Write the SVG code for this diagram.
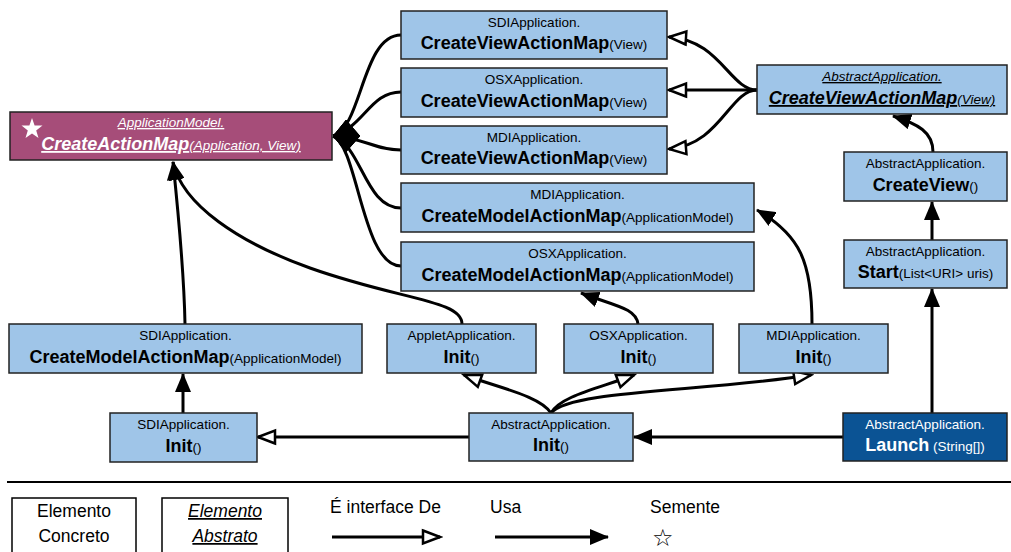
<svg xmlns="http://www.w3.org/2000/svg" width="1011" height="552" viewBox="0 0 1011 552">
<style>
.box{fill:#9fc5e8;stroke:#222;stroke-width:1.5}
.abs{fill:#9fc5e8;stroke:#222;stroke-width:1.5}
.model{fill:#a64d79;stroke:#222;stroke-width:1.5}
.seed{fill:#0b5394;stroke:#222;stroke-width:1.5}
.leg{fill:#fff;stroke:#000;stroke-width:1.5}
text{font-family:"Liberation Sans",Arial,sans-serif;fill:#000}
.t1{font-size:13.5px;text-anchor:middle}
.t2{font-size:13.5px;text-anchor:middle}
.b{font-size:18px;font-weight:bold}
.i{font-style:italic;text-decoration:underline}
.w{fill:#fff}
.lt{font-size:17.5px}
.c{fill:none;stroke:#000;stroke-width:3}
</style>
<defs>
<marker id="uses" markerUnits="userSpaceOnUse" markerWidth="19" markerHeight="16" viewBox="0 0 19 16" refX="18" refY="8" orient="auto"><path d="M0,0 L19,8 L0,16 Z" fill="#000"/></marker>
<marker id="iface" markerUnits="userSpaceOnUse" markerWidth="22" markerHeight="18" viewBox="0 0 22 18" refX="19" refY="9" orient="auto"><path d="M2,2.5 L19,9 L2,15.5 Z" fill="#fff" stroke="#000" stroke-width="2.5"/></marker>
<marker id="diamond" markerUnits="userSpaceOnUse" markerWidth="27" markerHeight="34" viewBox="0 0 27 34" refX="0" refY="17" orient="0"><path d="M0,17 L13,1 L27,17 L13,33 Z" fill="#000"/></marker>
</defs>

<g id="connectors">
<path class="c" marker-start="url(#diamond)" d="M333,136 C362,128 362,35 401,35"/>
<path class="c" marker-start="url(#diamond)" d="M333,136 C365,126 370,92 401,92"/>
<path class="c" marker-start="url(#diamond)" d="M333,136 C365,138 375,150 401,150"/>
<path class="c" marker-start="url(#diamond)" d="M333,136 C362,146 365,208 401,208"/>
<path class="c" marker-start="url(#diamond)" d="M333,136 C358,146 362,266 401,266"/>
<path class="c" marker-end="url(#iface)" d="M757,90 C730,90 720,40 669,37"/>
<path class="c" marker-end="url(#iface)" d="M757,90 L669,90"/>
<path class="c" marker-end="url(#iface)" d="M757,90 C730,90 720,145 669,149"/>
<path class="c" marker-end="url(#uses)" d="M933,152 C933,132 918,124 893,116"/>
<path class="c" marker-end="url(#uses)" d="M932,240 L932,202"/>
<path class="c" marker-end="url(#uses)" d="M932,413 L932,289"/>
<path class="c" marker-end="url(#uses)" d="M843,437 L634,437"/>
<path class="c" marker-end="url(#uses)" d="M183,413 L183,374"/>
<path class="c" marker-end="url(#uses)" d="M185,324 C184,270 178,210 173,162"/>
<path class="c" marker-end="url(#uses)" d="M462,324 C462,300 400,300 310,268 C240,243 182,205 173,162"/>
<path class="c" marker-end="url(#uses)" d="M812,324 C812,262 800,235 757,210"/>
<path class="c" marker-end="url(#uses)" d="M638,324 C636,308 615,306 581,293"/>
<path class="c" marker-end="url(#iface)" d="M469,437 L258,437"/>
<path class="c" marker-end="url(#iface)" d="M551,413 C540,396 500,388 464,375"/>
<path class="c" marker-end="url(#iface)" d="M551,413 C560,396 600,388 634,375"/>
<path class="c" marker-end="url(#iface)" d="M551,413 C570,390 700,392 811,375"/>
</g>

<g id="appModelCreateActionMap">
<rect class="model" x="10" y="112" width="322" height="48"/>
<polygon fill="#fff" points="32,118 34.6,125.4 42.5,125.6 36.2,130.4 38.5,137.9 32,133.4 25.5,137.9 27.8,130.4 21.5,125.6 29.4,125.4"/>
<text class="t1 i w" x="171" y="127">ApplicationModel.</text>
<text class="t2 i w" x="171" y="150"><tspan class="b">CreateActionMap</tspan>(Application, View)</text>
</g>

<g id="sdiCreateViewActionMap">
<rect class="box" x="401" y="11" width="266" height="48"/>
<text class="t1" x="534" y="27">SDIApplication.</text>
<text class="t2" x="534" y="49"><tspan class="b">CreateViewActionMap</tspan>(View)</text>
</g>
<g id="osxCreateViewActionMap">
<rect class="box" x="401" y="68" width="266" height="49"/>
<text class="t1" x="534" y="84">OSXApplication.</text>
<text class="t2" x="534" y="107"><tspan class="b">CreateViewActionMap</tspan>(View)</text>
</g>
<g id="mdiCreateViewActionMap">
<rect class="box" x="401" y="126" width="266" height="48"/>
<text class="t1" x="534" y="142">MDIApplication.</text>
<text class="t2" x="534" y="164"><tspan class="b">CreateViewActionMap</tspan>(View)</text>
</g>
<g id="mdiCreateModelActionMap">
<rect class="box" x="401" y="183" width="353" height="49"/>
<text class="t1" x="577.5" y="199">MDIApplication.</text>
<text class="t2" x="577.5" y="222"><tspan class="b">CreateModelActionMap</tspan>(ApplicationModel)</text>
</g>
<g id="osxCreateModelActionMap">
<rect class="box" x="401" y="242" width="353" height="49"/>
<text class="t1" x="577.5" y="258">OSXApplication.</text>
<text class="t2" x="577.5" y="281"><tspan class="b">CreateModelActionMap</tspan>(ApplicationModel)</text>
</g>
<g id="abstractCreateViewActionMap">
<rect class="abs" x="757" y="65" width="250" height="49"/>
<text class="t1 i" x="882" y="81">AbstractApplication.</text>
<text class="t2 i" x="882" y="104"><tspan class="b">CreateViewActionMap</tspan>(View)</text>
</g>
<g id="abstractCreateView">
<rect class="box" x="844" y="152" width="163" height="49"/>
<text class="t1" x="925.5" y="168">AbstractApplication.</text>
<text class="t2" x="925.5" y="191"><tspan class="b">CreateView</tspan>()</text>
</g>
<g id="abstractStart">
<rect class="box" x="844" y="240" width="163" height="48"/>
<text class="t1" x="925.5" y="256">AbstractApplication.</text>
<text class="t2" x="925.5" y="278"><tspan class="b">Start</tspan>(List&lt;URI&gt; uris)</text>
</g>
<g id="sdiCreateModelActionMap">
<rect class="box" x="9" y="324" width="353" height="49"/>
<text class="t1" x="185.5" y="340">SDIApplication.</text>
<text class="t2" x="185.5" y="363"><tspan class="b">CreateModelActionMap</tspan>(ApplicationModel)</text>
</g>
<g id="appletInit">
<rect class="box" x="387" y="324" width="149" height="49"/>
<text class="t1" x="461.5" y="340">AppletApplication.</text>
<text class="t2" x="461.5" y="363"><tspan class="b">Init</tspan>()</text>
</g>
<g id="osxInit">
<rect class="box" x="564" y="324" width="149" height="49"/>
<text class="t1" x="638.5" y="340">OSXApplication.</text>
<text class="t2" x="638.5" y="363"><tspan class="b">Init</tspan>()</text>
</g>
<g id="mdiInit">
<rect class="box" x="739" y="324" width="149" height="49"/>
<text class="t1" x="813.5" y="340">MDIApplication.</text>
<text class="t2" x="813.5" y="363"><tspan class="b">Init</tspan>()</text>
</g>
<g id="sdiInit">
<rect class="box" x="110" y="413" width="147" height="49"/>
<text class="t1" x="183.5" y="429">SDIApplication.</text>
<text class="t2" x="183.5" y="452"><tspan class="b">Init</tspan>()</text>
</g>
<g id="abstractInit">
<rect class="box" x="469" y="413" width="164" height="48"/>
<text class="t1" x="551" y="429">AbstractApplication.</text>
<text class="t2" x="551" y="451"><tspan class="b">Init</tspan>()</text>
</g>
<g id="abstractLaunch">
<rect class="seed" x="843" y="413" width="164" height="48"/>
<text class="t1 w" x="925" y="429">AbstractApplication.</text>
<text class="t2 w" x="925" y="451"><tspan class="b">Launch</tspan> (String[])</text>
</g>

<g id="legend">
<path d="M7,482 L1011,482" stroke="#000" stroke-width="2"/>
<rect class="leg" x="12" y="498" width="124" height="62"/>
<text class="lt" x="74" y="517" text-anchor="middle">Elemento</text>
<text class="lt" x="74" y="542" text-anchor="middle">Concreto</text>
<rect class="leg" x="162" y="498" width="126" height="62"/>
<text class="lt i" x="225" y="517" text-anchor="middle">Elemento</text>
<text class="lt i" x="225" y="542" text-anchor="middle">Abstrato</text>
<text class="lt" x="330" y="513">É interface De</text>
<path class="c" marker-end="url(#iface)" d="M332,537 L440,537"/>
<text class="lt" x="490" y="513">Usa</text>
<path class="c" marker-end="url(#uses)" d="M495,537 L608,537"/>
<text class="lt" x="650" y="513">Semente</text>
<text x="663" y="546" font-family="DejaVu Sans, sans-serif" font-size="24" text-anchor="middle">☆</text>
</g>
</svg>
